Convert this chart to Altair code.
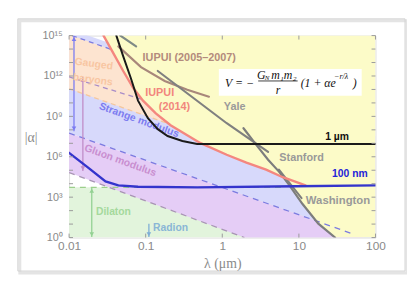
import altair as alt
import pandas as pd

# ---------------- axis ticks ----------------
x_ticks = [0.01, 0.1, 1, 10, 100]
y_ticks = [1e0, 1e3, 1e6, 1e9, 1e12, 1e15]
y_decades = [1e0, 1e1, 1e2, 1e3, 1e4, 1e5, 1e6, 1e7, 1e8, 1e9, 1e10, 1e11, 1e12, 1e13, 1e14, 1e15]

# ---------------- data: log10(lambda / um), log10(|alpha|) ----------------
# excluded region (above IUPUI 2014 then Washington limits)
excl_lx = [-1.55, -1.421, -1.293, -1.164, -1.035, -0.868, -0.675, -0.289, 0.058, 0.315, 0.572, 0.79, 0.868, 1.048, 1.254, 1.473, 2.0]
excl_ly = [15.0, 13.68, 12.37, 11.12, 10.17, 9.22, 8.34, 7.03, 6.15, 5.56, 5.05, 4.48, 3.95, 2.49, 1.03, 0.0, 0.0]

# theory bands
band_lx = [-2.0, 2.0]
strange_hi = [15.5, 7.5]
strange_lo = [7.76, -0.32]
gluon_hi = [7.76, -0.32]
gluon_lo = [4.83, -3.61]
dilaton_hi = [3.73, 3.73]
dilaton_lo = [0.0, 0.0]
baryon_lx = [-2.0, 0.0]
baryon_hi = [15.07, 11.07]
baryon_lo = [11.05, 7.05]

# experimental limit curves
iupui14_lx = [-1.55, -1.421, -1.293, -1.164, -1.035, -0.868, -0.675, -0.289, 0.058, 0.315, 0.572, 0.79, 1.087]
iupui14_ly = [15.0, 13.68, 12.37, 11.12, 10.17, 9.22, 8.34, 7.03, 6.15, 5.56, 5.05, 4.48, 3.88]
iupui05_lx = [-1.357, -1.061, -0.752, -0.457, -0.174]
iupui05_ly = [14.2, 12.66, 11.63, 10.98, 10.46]
early_lx = [-1.331, -1.125]
early_ly = [15.0, 14.2]
yale_lx = [-0.842, 0.058, 0.598]
yale_ly = [12.37, 8.49, 6.37]
wash_lx = [0.277, 0.444, 0.598, 0.740, 0.868, 1.048, 1.254, 1.473]
wash_ly = [8.12, 6.88, 5.78, 4.90, 3.95, 2.49, 1.03, 0.0]
stan_lx = [0.740, 1.035]
stan_ly = [5.05, 2.93]
# projected sensitivities
um1_lx = [-1.383, -1.293, -1.19, -1.1, -0.971, -0.842, -0.714, -0.521, -0.328, 2.0]
um1_ly = [15.0, 13.46, 11.78, 10.17, 8.86, 8.05, 7.54, 7.17, 6.95, 6.95]
nm100_lx = [-2.0, -1.768, -1.524, -1.357, -1.1, -0.328, 0.958, 2.0]
nm100_ly = [6.29, 5.27, 4.17, 3.88, 3.77, 3.73, 3.81, 3.88]

# dashed band edges
d_baryon_top = ([-1.96, -1.45], [15.0, 13.97])
d_gluon_top = ([-2.0, -1.04], [11.93, 10.25])
d_baryon_bot = ([-2.0, -0.74], [11.05, 8.53])
d_strange_bot = ([-2.0, 1.69], [7.76, 0.30])
d_gluon_bot = ([-2.0, 0.29], [4.83, 0.0])
d_dilaton_top = ([-2.0, 0.83], [3.73, 3.73])

# range arrows
arrow_lx = [-1.936, -1.82, -1.704, -0.958]
arrow_top = [14.95, 11.9, 3.68, 1.03]
arrow_bot = [7.9, 4.95, 0.05, 0.05]
arrow_up = [True, True, True, False]
arrow_col = ["#7b7bf2", "#c08cc8", "#93d193", "#7eaed6"]

# labels
lab_text = ["Gauged", "baryons", "Strange modulus", "Gluon modulus", "Dilaton", "Radion",
            "IUPUI (2005\u20132007)", "IUPUI", "(2014)", "Yale", "1 \u00b5m", "Stanford", "100 nm", "Washington"]
lab_lx = [-1.678, -1.691, -1.087, -1.331, -1.421, -0.675, -0.431, -0.817, -0.624, 0.161, 1.498, 1.035, 1.666, 1.511]
lab_ly = [12.88, 11.71, 8.71, 5.71, 1.91, 0.74, 13.32, 10.76, 9.66, 9.66, 7.47, 5.93, 4.69, 2.71]
lab_col = ["#f8c6a2", "#f8c6a2", "#7d7df0", "#c98fd0", "#a5d99c", "#8ab6d6", "#b38a7c", "#f2867d",
           "#f2867d", "#9a9a9a", "#111111", "#999999", "#2323d8", "#999999"]
lab_ang = [8, 8, 20, 20, 0, 0, 0, 0, 0, 0, 0, 0, 0, 0]
lab_size = [10.5, 10.5, 10.5, 10.5, 10.5, 10.5, 11, 11, 11, 11, 10.5, 11, 10.5, 11.5]

# formula box
box_lx = [-0.045, 1.82]
box_ly = [10.54, 12.51]
f_text = ["V = \u2212", "G", "N", "m\u2081m\u2082", "r", "(1 + \u03b1e", "\u2212r/\u03bb", ")"]
f_lx = [0.225, 0.508, 0.585, 0.804, 0.727, 1.023, 1.46, 1.73]
f_ly = [11.49, 12.07, 11.85, 12.07, 10.98, 11.49, 11.93, 11.49]
f_size = [12, 12, 7, 12, 12, 12, 8, 12]
f_align = ["center", "center", "center", "center", "center", "left", "left", "center"]
frac_lx = [0.469, 0.984]
frac_ly = 11.63

# ---------------- chart ----------------
AX = "#8a8a8a"
XS = alt.Scale(type="log", domain=[0.01, 100])
YS = alt.Scale(type="log", domain=[1, 1e15])
xaxis = alt.Axis(values=x_ticks, format="~g", title="\u03bb (\u03bcm)", ticks=False, tickSize=0, domain=False,
                 grid=False, labelFont="Liberation Sans", labelFontSize=12, labelColor=AX, labelPadding=3,
                 labelFlush=False, titleFont="Liberation Serif", titleFontSize=14, titleColor=AX,
                 titleFontWeight="normal", titlePadding=5, zindex=1)
yaxis = alt.Axis(values=y_ticks, ticks=False, tickSize=0, domain=False, grid=False,
                 labelExpr="'10' + ['\u2070','\u00b3','\u2076','\u2079','\u00b9\u00b2','\u00b9\u2075'][round(log(datum.value)/LN10/3)]",
                 labelFont="Liberation Sans", labelFontSize=11, labelColor=AX, labelPadding=7, labelFlush=False,
                 title="|\u03b1|", titleAngle=0, titleX=-39, titleY=103, titleAlign="center", titleBaseline="middle",
                 titleFont="Liberation Serif", titleFontSize=14, titleColor=AX, titleFontWeight="normal", zindex=1)


def X(f="lam"):
    return alt.X(f"{f}:Q", scale=XS, axis=xaxis)


def Y(f="alpha"):
    return alt.Y(f"{f}:Q", scale=YS, axis=yaxis)


def pts(lx, ly):
    d = pd.DataFrame({"lam": [10.0 ** v for v in lx], "alpha": [10.0 ** v for v in ly]})
    d["o"] = range(len(d))
    return d


def band(lx, lo, hi, color):
    d = pd.DataFrame({"lam": [10.0 ** v for v in lx], "lo": [10.0 ** v for v in lo],
                      "hi": [10.0 ** v for v in hi]})
    return alt.Chart(d).mark_area(color=color, opacity=1, clip=True).encode(x=X(), y=Y("lo"), y2="hi:Q")


def line(lx, ly, color, width=2.0, dash=None):
    kw = dict(color=color, strokeWidth=width, clip=True, strokeCap="round")
    if dash:
        kw["strokeDash"] = dash
        kw["strokeCap"] = "butt"
    return alt.Chart(pts(lx, ly)).mark_line(**kw).encode(x=X(), y=Y(), order="o:Q")


one = pd.DataFrame({"a": [0]})
shadow = alt.Chart(one).mark_rect(fill=None, stroke="#e4e4e4", strokeWidth=3).encode(
    x=alt.value(-50), x2=alt.value(343), y=alt.value(-15), y2=alt.value(241))
frame = alt.Chart(one).mark_rect(fill=None, stroke="#d2d2d2", strokeWidth=1).encode(
    x=alt.value(-52), x2=alt.value(341), y=alt.value(-17), y2=alt.value(239))

layers = [
    shadow, frame,
    band(band_lx, dilaton_lo, dilaton_hi, "#e2f4dc"),
    band(band_lx, strange_lo, strange_hi, "#d7d9fb"),
    band(baryon_lx, baryon_lo, baryon_hi, "#fde4d0"),
    band(band_lx, gluon_lo, gluon_hi, "#e5cdf6"),
    band(excl_lx, excl_ly, [15.0] * len(excl_lx), "#fcfbc8"),
    line(*d_baryon_top, "#7b7be0", 1.3, [5, 4]),
    line(*d_gluon_top, "#a88cc8", 1.3, [5, 4]),
    line(*d_baryon_bot, "#f5c79c", 1.3, [5, 4]),
    line(*d_strange_bot, "#7b7be0", 1.3, [6, 5]),
    line(*d_gluon_bot, "#a894b4", 1.3, [6, 5]),
    line(*d_dilaton_top, "#9ccf8c", 1.3, [6, 5]),
]

arr = pd.DataFrame({"lam": [10.0 ** v for v in arrow_lx], "top": [10.0 ** v for v in arrow_top],
                    "bot": [10.0 ** v for v in arrow_bot], "col": arrow_col})
layers.append(alt.Chart(arr).mark_rule(strokeWidth=1.3).encode(
    x=X(), y=Y("top"), y2="bot:Q", color=alt.Color("col:N", scale=None)))
heads = []
for lx, t, b, up, c in zip(arrow_lx, arrow_top, arrow_bot, arrow_up, arrow_col):
    if up:
        heads.append({"lam": 10.0 ** lx, "alpha": 10.0 ** (t - 0.2), "shape": "triangle-up", "col": c})
    heads.append({"lam": 10.0 ** lx, "alpha": 10.0 ** (b + 0.2), "shape": "triangle-down", "col": c})
layers.append(alt.Chart(pd.DataFrame(heads)).mark_point(filled=True, size=22, opacity=1).encode(
    x=X(), y=Y(), shape=alt.Shape("shape:N", scale=None), color=alt.Color("col:N", scale=None)))

labs = pd.DataFrame({"lam": [10.0 ** v for v in lab_lx], "alpha": [10.0 ** v for v in lab_ly],
                     "text": lab_text, "col": lab_col, "ang": lab_ang, "size": lab_size})
layers.append(alt.Chart(labs).mark_text(font="Liberation Sans", fontWeight="bold").encode(
    x=X(), y=Y(), text="text:N", color=alt.Color("col:N", scale=None), angle=alt.Angle("ang:Q", scale=None),
    size=alt.Size("size:Q", scale=None)))

# formula box
boxd = pd.DataFrame({"lam": [10.0 ** box_lx[0]], "lam2": [10.0 ** box_lx[1]],
                     "alpha": [10.0 ** box_ly[0]], "alpha2": [10.0 ** box_ly[1]]})
layers.append(alt.Chart(boxd).mark_rect(fill="white", stroke=None).encode(
    x=X(), x2="lam2:Q", y=Y(), y2="alpha2:Q"))
fd = pd.DataFrame({"lam": [10.0 ** v for v in f_lx], "alpha": [10.0 ** v for v in f_ly],
                   "text": f_text, "size": f_size, "align": f_align})
for al in ["center", "left"]:
    layers.append(alt.Chart(fd[fd["align"] == al]).mark_text(
        font="Liberation Serif", fontStyle="italic", color="#111111", align=al).encode(
        x=X(), y=Y(), text="text:N", size=alt.Size("size:Q", scale=None)))
fracd = pd.DataFrame({"lam": [10.0 ** frac_lx[0]], "lam2": [10.0 ** frac_lx[1]], "alpha": [10.0 ** frac_ly]})
layers.append(alt.Chart(fracd).mark_rule(color="#111111", strokeWidth=0.8).encode(
    x=X(), x2="lam2:Q", y=Y()))

layers += [
    line(iupui05_lx, iupui05_ly, "#a8877b", 2.2),
    line(early_lx, early_ly, "#7f8a86", 2.2),
    line(yale_lx, yale_ly, "#808080", 2.2),
    line(wash_lx, wash_ly, "#7d7d7d", 2.2),
    line(stan_lx, stan_ly, "#7d7d7d", 2.0),
    line(iupui14_lx, iupui14_ly, "#f4877f", 2.4),
    line(um1_lx, um1_ly, "#1a1a1a", 2.0),
    line(nm100_lx, nm100_ly, "#3434cc", 2.4),
]

# inward tick marks
ydec = pd.DataFrame({"alpha": y_decades})
xdec = pd.DataFrame({"lam": x_ticks})
layers += [
    alt.Chart(ydec).mark_rule(color="#9a9a9a", strokeWidth=1).encode(y=Y(), x=alt.value(0), x2=alt.value(4)),
    alt.Chart(ydec).mark_rule(color="#9a9a9a", strokeWidth=1).encode(y=Y(), x=alt.value(307), x2=alt.value(311)),
    alt.Chart(xdec).mark_rule(color="#9a9a9a", strokeWidth=1).encode(x=X(), y=alt.value(0), y2=alt.value(4)),
    alt.Chart(xdec).mark_rule(color="#9a9a9a", strokeWidth=1).encode(x=X(), y=alt.value(201), y2=alt.value(205)),
]

chart = alt.layer(*layers).properties(
    width=311, height=205,
    padding={"left": 62, "top": 26, "right": 32, "bottom": 36},
    autosize=alt.AutoSizeParams(type="none"),
).configure_view(stroke="#b0b0b0", strokeWidth=1).configure(background="white")

chart.save("out.html", embed_options={"renderer": "svg", "actions": False})
